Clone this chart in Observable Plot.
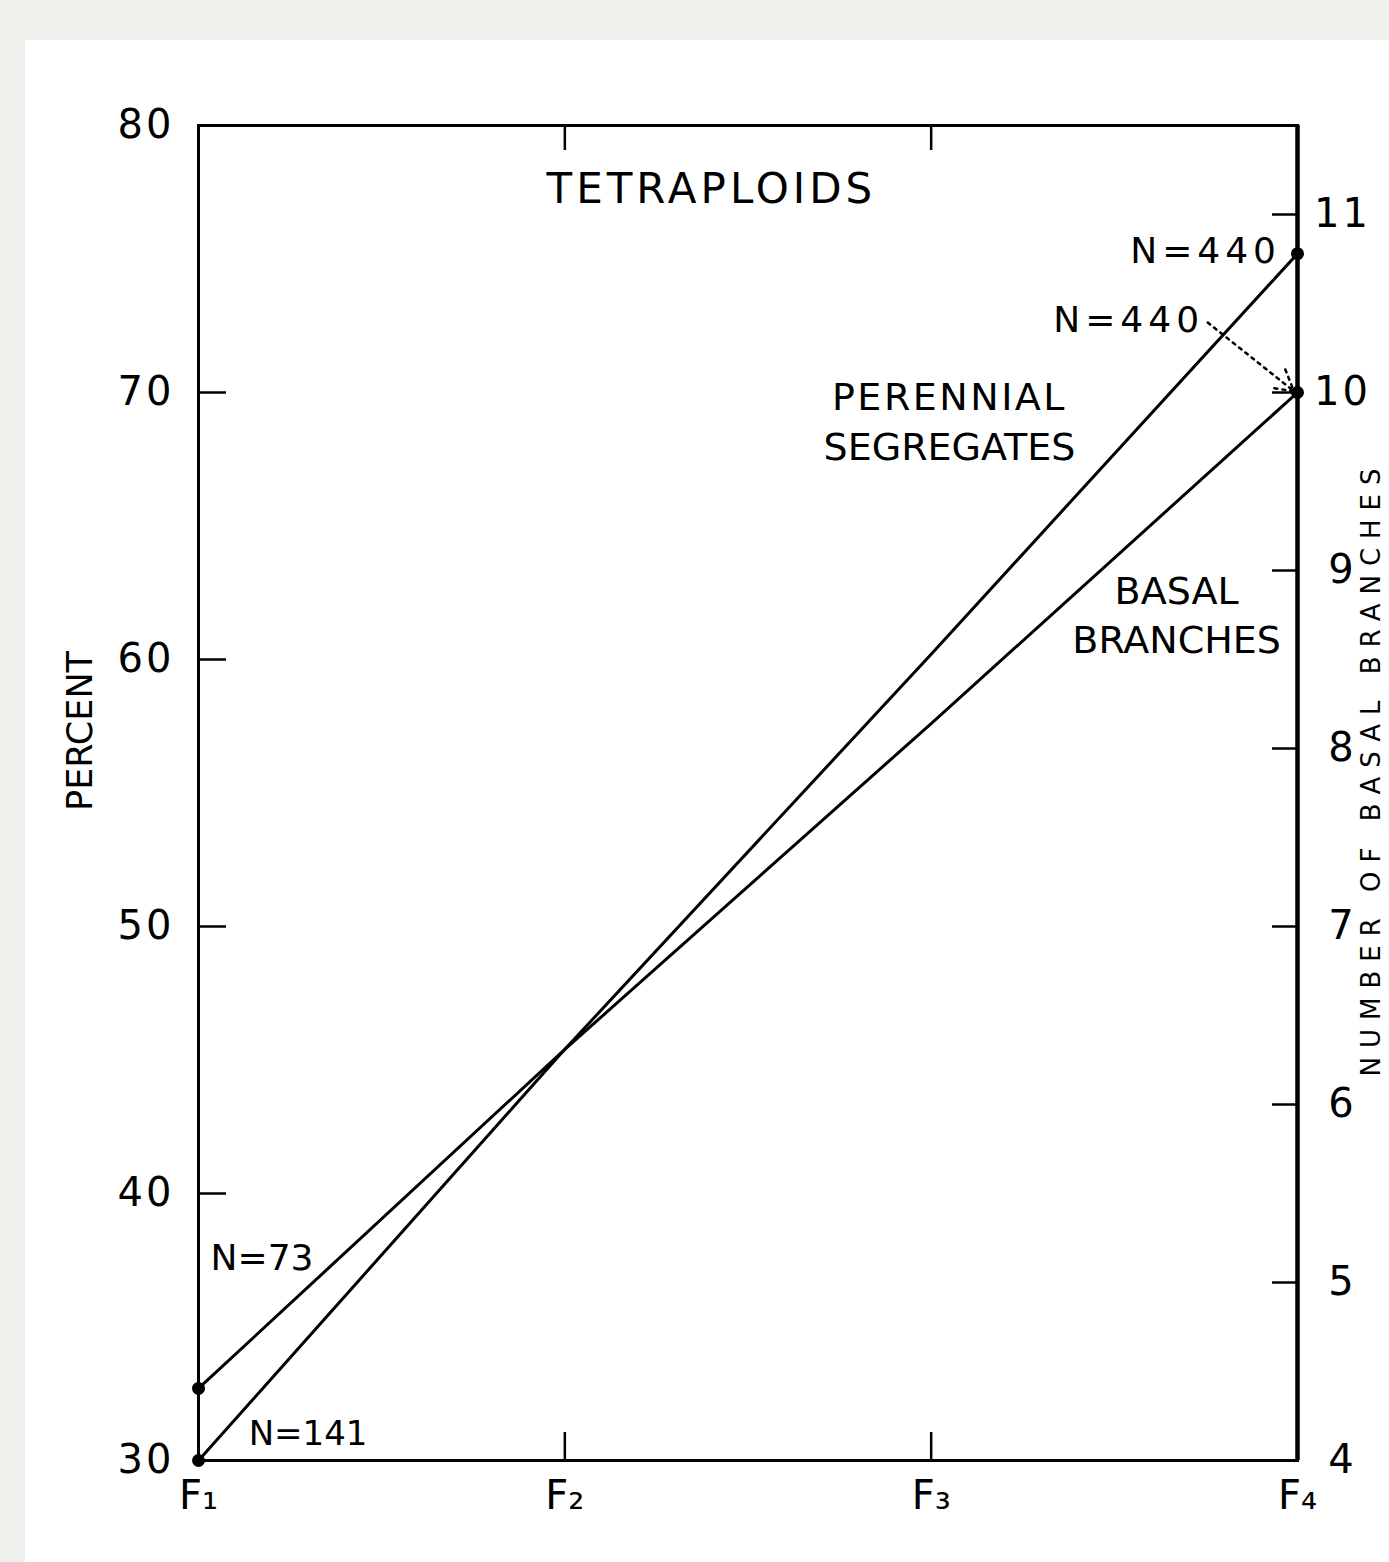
<!DOCTYPE html>
<html>
<head>
<meta charset="utf-8">
<script src="https://cdn.jsdelivr.net/npm/d3@7"></script>
<script src="https://cdn.jsdelivr.net/npm/@observablehq/plot@0.6"></script>
<style>
  html, body { margin: 0; padding: 0; }
  #page { position: relative; width: 1389px; height: 1562px; background: #eef1ec; overflow: hidden; }
  #paper { position: absolute; left: 25px; top: 40px; right: 0; bottom: 0; background: #ffffff; }
  #chart { position: absolute; left: 0; top: 0; }
</style>
</head>
<body>
<div id="page"><div id="paper"></div><div id="chart"></div></div>
<script>
// ---- data ----
const generations = [1, 2, 3, 4];
const genLabels = ["F₁", "F₂", "F₃", "F₄"];
const perennialPct = [32.7, 45.4, 60.2, 75.2];      // left axis, percent
const basalBranches = [4.0, 6.31, 8.14, 10.0];      // right axis, number of basal branches
const percentTicks = [30, 40, 50, 60, 70, 80];
const branchTicks = [4, 5, 6, 7, 8, 9, 10, 11];
const innerTicks = [2, 3];

// right axis: 4 branches ↔ 30 %, 10 branches ↔ 70 %
const branchToPct = b => 30 + (b - 4) * 20 / 3;

// annotations (data space: x = generation, y = percent)
const titleLabels = [{text: "TETRAPLOIDS", x: 2.40, y: 77.6}];
const seriesLabels = [
  {text: "PERENNIAL\nSEGREGATES", x: 3.05, y: 69.0},
  {text: "BASAL\nBRANCHES", x: 3.67, y: 61.75}
];
const nStartLabels = [
  {text: "N=73", x: 1.033, y: 37.55, size: 36},
  {text: "N=141", x: 1.137, y: 31.0, size: 34}
];
const nEndLabels = [
  {text: "N=440", x: 3.955, y: 75.3},
  {text: "N=440", x: 3.745, y: 72.7}
];
const leaders = [{x1: 3.755, y1: 72.62, x2: 3.99, y2: 70.05}];

// ---- table for the library ----
const rows = [];
generations.forEach((g, i) => {
  rows.push({series: "Perennial segregates", gen: g, pct: perennialPct[i]});
  rows.push({series: "Basal branches", gen: g, pct: branchToPct(basalBranches[i])});
});
const endpoints = rows.filter(d => d.gen === generations[0] || d.gen === generations[generations.length - 1]);

const W = 1389, H = 1562, mL = 198, mR = 92, mT = 125, mB = 102;
const fw = W - mL - mR, fh = H - mT - mB;

const plot = Plot.plot({
  width: W, height: H,
  marginLeft: mL, marginRight: mR, marginTop: mT, marginBottom: mB,
  x: {domain: [1, 4], axis: null},
  y: {domain: [30, 80], axis: null},
  style: {fontFamily: "DejaVu Sans, sans-serif", fontSize: "40px", background: "transparent", color: "black"},
  marks: [
    // inward ticks
    Plot.tickY(percentTicks, {y: d => d, insetRight: fw - 28, stroke: "black", strokeWidth: 2.5}),
    Plot.tickY(branchTicks, {y: branchToPct, insetLeft: fw - 25, stroke: "black", strokeWidth: 2.5}),
    Plot.tickX(innerTicks, {x: d => d, insetTop: fh - 28, stroke: "black", strokeWidth: 2.5}),
    Plot.tickX(innerTicks, {x: d => d, insetBottom: fh - 25, stroke: "black", strokeWidth: 2.5}),
    Plot.frame({stroke: "black", strokeWidth: 3}),
    Plot.ruleX([4], {stroke: "black", strokeWidth: 4.5}),
    // axes labels
    Plot.axisY({ticks: percentTicks, anchor: "left", tickSize: 0, tickPadding: 24, fontSize: 40}),
    Plot.text(branchTicks, {y: branchToPct, text: d => String(d), frameAnchor: "right", dx: 45, textAnchor: "middle", fontSize: 40}),
    Plot.axisX({ticks: generations, tickFormat: d => genLabels[d - 1], anchor: "bottom", tickSize: 0, tickPadding: 20, fontSize: 40}),
    Plot.text(["PERCENT"], {frameAnchor: "left", textAnchor: "middle", rotate: -90, dx: -118, dy: -62, fontSize: 35}),
    Plot.text(["NUMBER OF BASAL BRANCHES"], {frameAnchor: "right", textAnchor: "middle", rotate: -90, dx: 74, dy: -25, fontSize: 26}),
    // data
    Plot.line(rows, {x: "gen", y: "pct", z: "series", stroke: "black", strokeWidth: 3}),
    Plot.dot(endpoints, {x: "gen", y: "pct", r: 6.5, fill: "black"}),
    // annotations
    Plot.text(titleLabels, {x: "x", y: "y", text: "text", fontSize: 42}),
    Plot.text(seriesLabels, {x: "x", y: "y", text: "text", fontSize: 38, lineHeight: 1.3}),
    Plot.text(nStartLabels, {x: "x", y: "y", text: "text", fontSize: d => d.size, textAnchor: "start"}),
    Plot.text(nEndLabels, {x: "x", y: "y", text: "text", fontSize: 36, textAnchor: "end"}),
    Plot.arrow(leaders, {x1: "x1", y1: "y1", x2: "x2", y2: "y2", stroke: "black", strokeWidth: 2.5, strokeDasharray: "3,5", headLength: 14, bend: false})
  ]
});

// letter spacing tweaks
plot.querySelectorAll("text").forEach(t => {
  const s = t.textContent;
  if (s === "TETRAPLOIDS") t.setAttribute("letter-spacing", "4");
  if (s === "N=440") t.setAttribute("letter-spacing", "5");
  if (s === "NUMBER OF BASAL BRANCHES") t.setAttribute("letter-spacing", "9");
  if (/^\d+$/.test(s)) t.setAttribute("letter-spacing", "3");
});
plot.querySelectorAll("tspan").forEach(t => {
  if (t.textContent === "PERENNIAL") t.setAttribute("letter-spacing", "2.5");
});

document.getElementById("chart").appendChild(plot);
</script>
</body>
</html>
